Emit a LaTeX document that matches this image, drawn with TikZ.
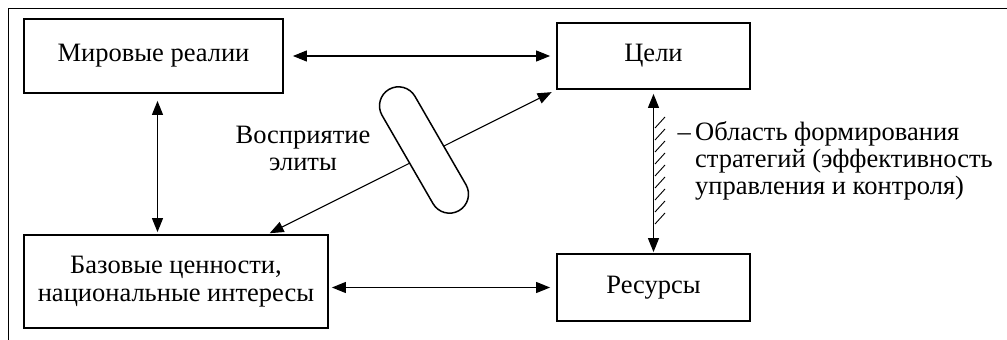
\documentclass[tikz,border=0pt]{standalone}
\usepackage{fontspec}
\setmainfont{Liberation Serif}
\usetikzlibrary{arrows.meta,positioning}

\begin{document}
\begin{tikzpicture}[x=1pt,y=-1pt]
		\tikzstyle{box_style} = [rectangle,draw=black,line width=1.8pt,inner sep=0pt,align=center,font=\fontsize{26.5}{28}\selectfont]
		\tikzstyle{arrow_style} = [draw=black,line width=1.1pt,{Triangle[length=14pt,width=11pt]}-{Triangle[length=14pt,width=11pt]}]
		\tikzstyle{text_style} = [inner sep=0pt,font=\fontsize{26.5}{27}\selectfont]
		\useasboundingbox (0,0) rectangle (1007,340);
		\draw[line width=0.8pt] (1007,8) -- (8,8) -- (8,340);
		\node[box_style,minimum width=259pt,minimum height=74pt] (mir) at (153.5,56) {Мировые реалии};
		\node[box_style,minimum width=193pt,minimum height=66pt] (celi) at (653.5,56) {Цели};
		\node[box_style,minimum width=304pt,minimum height=93pt] (baz) at (176,281.5) {Базовые ценности,\\национальные интересы};
		\node[box_style,minimum width=193pt,minimum height=67pt] (res) at (653.5,287.5) {Ресурсы};
		\draw[arrow_style,shorten <=9pt,shorten >=6pt] (mir) edge (celi);
		\draw[arrow_style,shorten <=7pt,shorten >=2pt] ([xshift=4pt]mir.south) -- ([xshift=4pt]mir.south |- baz.north);
		\draw[arrow_style,shorten <=6pt,shorten >=3pt] (res.west) -- (res.west -| baz.east);
		\draw[arrow_style,shorten <=4pt,shorten >=1pt] (celi.south) -- (res.north);
		\draw[arrow_style,shorten <=2pt,shorten >=5pt] ([xshift=-61pt]baz.north east) -- (celi.south west);
		% hatching along the right arrow
		\foreach \i in {0,...,8}
			\draw[line width=0.9pt] (655,224-\i*12) -- ++(10,-11);
		\node[draw=black,line width=1.5pt,fill=white,rounded corners=19pt,minimum width=140pt,minimum height=38pt,rotate=-60] (elite) at (424,150) {};
		\node[text_style,align=center] (vospr) at (303,148) {Восприятие\\элиты};
		\node[text_style,align=left,anchor=west] (obl) at (695,161) {\llap{–\,}Область формирования\\стратегий (эффективность\\управления и контроля)};
\end{tikzpicture}
\end{document}
